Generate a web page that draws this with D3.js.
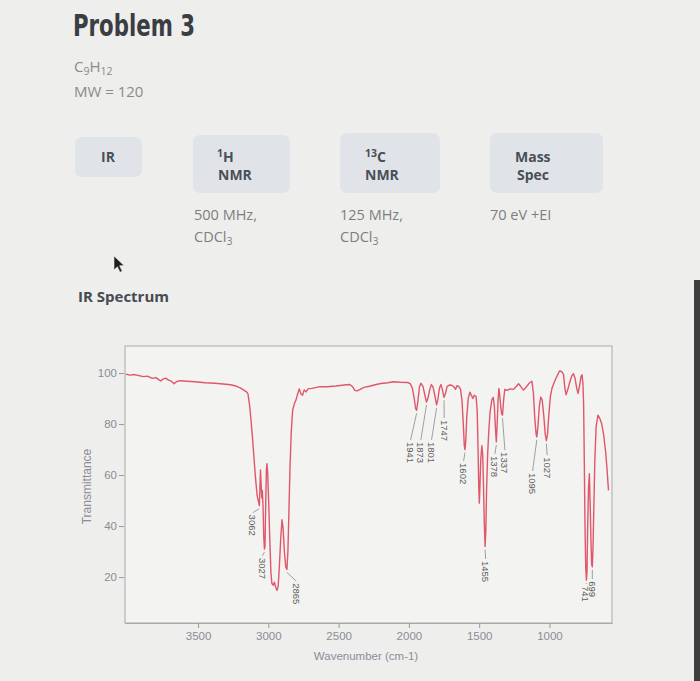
<!DOCTYPE html>
<html>
<head>
<meta charset="UTF-8">
<script src="https://cdn.jsdelivr.net/npm/d3@7"></script>
<style>
  html, body { margin: 0; padding: 0; background: #eeeeec; }
  svg { display: block; }
  .hdr { font-family: "Open Sans", "Noto Sans", sans-serif; }
  .ax text { font-family: "Liberation Sans", Arial, sans-serif; fill: #8a8d96; }
</style>
</head>
<body>
<script>
// IR spectrum (wavenumber cm-1, % transmittance)
const wavenumber = [4015,3985,3950,3921,3890,3860,3826,3800,3780,3766,3750,3731,3710,3690,3671,3655,3630,3580,3520,3450,
  3380,3320,3270,3230,3200,3175,3155,3145,3135,3124,3112,3100,3090,3080,3070,3064,3060,3056,3052,3047,
  3043,3038,3033,3028,3024,3019,3014,3010,3005,2998,2990,2982,2975,2965,2957,2948,2938,2930,2922,2912,
  2903,2895,2886,2876,2868,2861,2854,2846,2837,2827,2815,2803,2791,2780,2768,2757,2745,2733,2718,2690,
  2640,2580,2520,2460,2420,2400,2385,2370,2350,2320,2280,2240,2200,2150,2110,2060,2010,1990,1975,1962,
  1952,1945,1936,1925,1915,1900,1885,1875,1865,1852,1840,1828,1815,1803,1793,1783,1772,1762,1750,1740,
  1728,1712,1695,1680,1668,1658,1645,1632,1622,1613,1606,1601,1596,1588,1578,1566,1555,1545,1535,1522,
  1514,1508,1503,1499,1495,1489,1481,1475,1469,1463,1458,1453,1447,1440,1432,1422,1410,1400,1392,1385,
  1378,1372,1366,1360,1354,1347,1340,1334,1327,1318,1300,1280,1255,1235,1220,1205,1185,1165,1145,1125,
  1114,1104,1095,1090,1082,1072,1062,1052,1040,1030,1022,1014,1004,993,982,965,945,928,912,900,
  890,882,870,855,840,830,818,806,796,786,775,768,762,757,752,747,742,737,733,728,
  722,716,711,705,700,695,690,684,677,668,655,640,628,615,600,590,580];
const transmittance = [99.6,99.2,99.4,99.0,98.6,98.8,97.9,98.2,97.4,96.9,97.6,98.0,97.2,96.8,95.8,96.6,97.0,96.8,96.6,96.2,
  96.0,95.7,95.4,94.9,94.2,93.3,92.6,91.8,88.0,82.0,74.0,65.0,58.0,52.0,49.5,48.0,55.0,62.0,57.0,51.0,
  54.0,48.0,36.0,31.0,32.0,48.0,62.0,64.5,61.0,50.0,35.0,22.0,17.5,16.8,18.0,16.0,14.8,16.5,24.0,35.0,
  42.5,39.0,30.0,24.0,23.0,30.0,45.0,63.0,77.0,85.5,88.0,89.5,92.0,93.8,91.8,91.3,93.4,92.6,93.8,94.0,
  94.6,94.6,94.9,95.3,95.5,94.6,93.2,93.0,93.5,94.4,94.8,95.4,95.9,96.2,96.6,96.4,96.3,95.8,94.0,90.0,
  86.0,85.4,89.0,94.5,96.0,94.8,91.0,88.6,90.0,93.5,95.5,94.5,91.0,87.5,90.0,94.0,95.5,93.5,90.5,92.0,
  94.8,95.3,95.2,94.6,93.6,95.0,94.8,93.5,89.0,80.0,71.5,70.0,73.0,83.0,90.0,92.5,91.2,90.0,91.3,90.8,
  85.0,70.0,55.0,49.0,55.0,66.0,71.5,68.0,55.0,40.0,32.0,38.0,55.0,68.0,77.0,85.0,89.5,90.5,87.0,79.0,
  73.0,80.0,89.0,94.0,91.5,87.0,84.0,83.5,89.0,93.6,93.2,93.8,93.6,94.8,95.8,94.8,93.3,94.5,96.0,96.8,
  92.0,82.0,76.0,75.0,79.0,87.0,90.6,89.5,83.0,76.0,73.5,76.0,84.0,91.0,94.0,96.5,99.0,100.8,100.5,99.5,
  94.0,91.5,93.5,96.5,99.0,99.8,98.0,94.0,92.0,95.0,98.8,99.3,96.0,88.0,65.0,40.0,24.0,18.8,22.0,40.0,
  55.0,60.5,50.0,35.0,25.0,24.0,32.0,48.0,66.0,79.0,83.5,82.0,80.0,76.0,69.0,62.0,54.0];

// peak annotations: peak position, and where the rotated label starts
const peakLabels = ["3062","3027","2865","1941","1873","1801","1747","1602","1455","1378","1337","1095","1027","741","699"];
const peakWn     = [3064, 3028, 2868, 1945, 1875, 1803, 1750, 1601, 1458, 1378, 1334, 1090, 1022, 737, 695];
const peakT      = [48, 31, 23, 85.4, 88.6, 87.5, 90.5, 70, 32, 73, 83.5, 75, 73.5, 18.8, 24];
const labelWn    = [3110, 3043, 2801, 1988, 1915, 1839, 1749, 1611, 1454, 1388, 1317, 1120, 1016, 740, 695];
const labelT     = [44.5, 27.5, 17.6, 73, 73, 73, 81.6, 64.7, 26.3, 67.5, 69, 60.8, 67, 16.5, 18.4];

const xTicks = [3500, 3000, 2500, 2000, 1500, 1000];
const yTicks = [20, 40, 60, 80, 100];

const W = 700, H = 681;
const plot = {left: 125, right: 612, top: 346, bottom: 623};

const svg = d3.select('body').append('svg')
  .attr('width', W).attr('height', H);

svg.append('rect').attr('width', W).attr('height', H).attr('fill', '#eeeeec');
// dark edge of the photographed screen
svg.append('rect').attr('x', 694).attr('y', 280).attr('width', 6).attr('height', H - 280)
  .attr('fill', '#3e3e3e');

// ---- header ----
svg.append('text').attr('class', 'hdr')
  .attr('x', 73).attr('y', 36)
  .style('font-family', '"Liberation Sans Narrow", "DejaVu Sans Condensed", sans-serif')
  .style('font-weight', 'bold').style('font-size', '30px')
  .attr('textLength', 122).attr('lengthAdjust', 'spacingAndGlyphs')
  .attr('fill', '#3a3d42').text('Problem 3');

const formula = svg.append('text').attr('class', 'hdr')
  .attr('x', 74).attr('y', 72).style('font-size', '15px').attr('fill', '#8a8a8a');
formula.append('tspan').text('C');
formula.append('tspan').attr('dy', 3).style('font-size', '10.5px').text('9');
formula.append('tspan').attr('dy', -3).text('H');
formula.append('tspan').attr('dy', 3).style('font-size', '10.5px').text('12');

svg.append('text').attr('class', 'hdr')
  .attr('x', 74).attr('y', 97).style('font-size', '15px').attr('fill', '#8a8a8a')
  .text('MW = 120');

// tab buttons
const boxes = [
  {x: 75, y: 137, w: 67, h: 40},
  {x: 193, y: 135, w: 97, h: 58},
  {x: 340, y: 133, w: 100, h: 60},
  {x: 490, y: 133, w: 113, h: 60}
];
svg.selectAll('rect.tab').data(boxes).enter().append('rect')
  .attr('class', 'tab')
  .attr('x', d => d.x).attr('y', d => d.y)
  .attr('width', d => d.w).attr('height', d => d.h)
  .attr('rx', 7).attr('fill', '#e0e4e8');

function btnText(x, y) {
  return svg.append('text').attr('class', 'hdr')
    .attr('x', x).attr('y', y)
    .style('font-size', '14px').style('font-weight', 'bold')
    .attr('fill', '#4a4f56');
}
btnText(101, 162).text('IR');
let t = btnText(217, 162);
t.append('tspan').style('font-size', '10.5px').attr('dy', -5).text('1');
t.append('tspan').attr('dy', 5).text('H');
btnText(218, 180).text('NMR');
t = btnText(365, 162);
t.append('tspan').style('font-size', '10.5px').attr('dy', -5).text('13');
t.append('tspan').attr('dy', 5).text('C');
btnText(365, 180).text('NMR');
btnText(515, 162).text('Mass');
btnText(517, 180).text('Spec');

function subText(x, y) {
  return svg.append('text').attr('class', 'hdr')
    .attr('x', x).attr('y', y).style('font-size', '14.5px').attr('fill', '#7e7e7e');
}
subText(194, 220).text('500 MHz,');
t = subText(194, 242); t.append('tspan').text('CDCl');
t.append('tspan').attr('dy', 3).style('font-size', '10.5px').text('3');
subText(340, 220).text('125 MHz,');
t = subText(340, 242); t.append('tspan').text('CDCl');
t.append('tspan').attr('dy', 3).style('font-size', '10.5px').text('3');
subText(490, 220).text('70 eV +EI');

// mouse pointer
svg.append('path')
  .attr('transform', 'translate(114,256)')
  .attr('d', 'M0,0 L0,14 L3.4,10.8 L6,16.2 L8.2,15.2 L5.6,9.8 L10,9.6 Z')
  .attr('fill', '#1e1e1e').attr('stroke', '#eeeeec').attr('stroke-width', 0.6);

svg.append('text').attr('class', 'hdr')
  .attr('x', 78).attr('y', 302)
  .style('font-size', '15px').style('font-weight', 'bold')
  .attr('fill', '#474b51').text('IR Spectrum');

// ---- spectrum ----
const x = d3.scaleLinear().domain([4020, 555]).range([plot.left, plot.right]);
const y = d3.scaleLinear().domain([2, 110.6]).range([plot.bottom, plot.top]);

svg.append('rect')
  .attr('x', plot.left).attr('y', plot.top)
  .attr('width', plot.right - plot.left).attr('height', plot.bottom - plot.top)
  .attr('fill', '#f3f3f1').attr('stroke', '#a9a9a9').attr('stroke-width', 1);

const xAxis = svg.append('g').attr('class', 'ax')
  .attr('transform', `translate(0,${plot.bottom})`)
  .call(d3.axisBottom(x).tickValues(xTicks).tickSizeInner(5).tickSizeOuter(0)
    .tickPadding(4).tickFormat(d3.format('d')));
xAxis.select('.domain').attr('stroke', '#a9a9a9');
xAxis.selectAll('line').attr('stroke', '#999');
xAxis.selectAll('text').style('font-size', '11.5px');

const yAxis = svg.append('g').attr('class', 'ax')
  .attr('transform', `translate(${plot.left - 1},0)`)
  .call(d3.axisLeft(y).tickValues(yTicks).tickSizeInner(5).tickSizeOuter(0).tickPadding(2));
yAxis.select('.domain').remove();
yAxis.selectAll('line').attr('stroke', '#999');
yAxis.selectAll('text').style('font-size', '11.5px');

svg.append('text').attr('class', 'ax')
  .attr('transform', `translate(91,${(plot.top + plot.bottom) / 2 + 2}) rotate(-90)`)
  .attr('text-anchor', 'middle')
  .style('font-family', '"Liberation Sans", Arial, sans-serif')
  .style('font-size', '12px').attr('fill', '#8a8d99')
  .text('Transmittance');

svg.append('text')
  .attr('x', 366).attr('y', 660).attr('text-anchor', 'middle')
  .style('font-family', '"Liberation Sans", Arial, sans-serif')
  .style('font-size', '11.5px').attr('fill', '#8a8d99')
  .text('Wavenumber (cm-1)');

const pts = wavenumber.map((w, i) => [w, transmittance[i]]);
const line = d3.line().x(d => x(d[0])).y(d => y(d[1]));

svg.append('path').datum(pts)
  .attr('d', line)
  .attr('fill', 'none')
  .attr('stroke', '#e0566a')
  .attr('stroke-width', 1.4)
  .attr('stroke-linejoin', 'round');

// peak labels
const ann = svg.append('g');
peakLabels.forEach((lab, i) => {
  const x0 = x(peakWn[i]), y0 = y(peakT[i]) + 3;
  const x1 = x(labelWn[i]), y1 = y(labelT[i]) - 2;
  if (y1 > y0) {
    ann.append('line')
      .attr('x1', x0).attr('y1', y0).attr('x2', x1).attr('y2', y1)
      .attr('stroke', '#7a7a7a').attr('stroke-width', 0.7);
  }
  ann.append('text')
    .attr('transform', `translate(${x1},${y(labelT[i])}) rotate(90)`)
    .attr('dominant-baseline', 'central')
    .style('font-family', '"Liberation Sans", Arial, sans-serif')
    .style('font-size', '9.5px').attr('fill', '#5e5e5e')
    .text(lab);
});
</script>
</body>
</html>
